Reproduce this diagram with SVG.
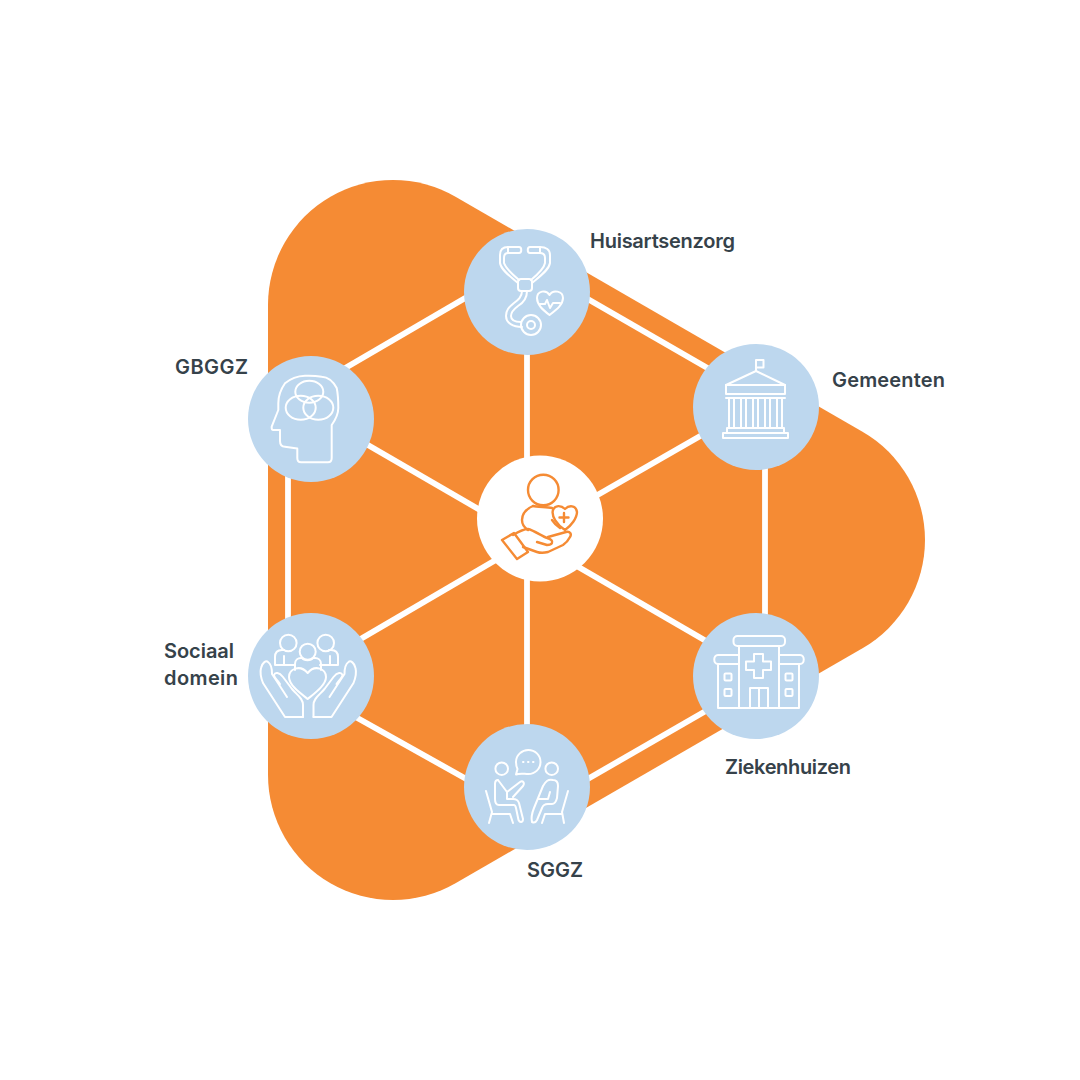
<svg xmlns="http://www.w3.org/2000/svg" xmlns:xlink="http://www.w3.org/1999/xlink" width="1080" height="1080" viewBox="0 0 1080 1080">
<style>
.n{fill:#bdd7ee}
.ic{fill:none;stroke:#fff;stroke-width:2;stroke-linecap:round;stroke-linejoin:round}
.oc{fill:none;stroke:#f58b34;stroke-width:2.4;stroke-linecap:round;stroke-linejoin:round}
.c line{stroke:#fff;stroke-width:5.800}
text{font-family:Inter,"Liberation Sans",sans-serif;font-size:20px;font-weight:600;fill:#36424a}
</style>
<rect width="1080" height="1080" fill="#fff"/>
<path id="bg" fill="#f58b34" d="M455.500 196.750L862.500 431.750A125 125 0 0 1 862.500 648.250L455.500 883.250A125 125 0 0 1 268 775V305A125 125 0 0 1 455.500 196.750Z"/>
<g id="connectors" class="c">
<line x1="311" y1="388" x2="527" y2="262"/>
<line x1="527" y1="264" x2="756" y2="396"/>
<line x1="765" y1="407" x2="765" y2="676"/>
<line x1="756" y1="682" x2="527" y2="814"/>
<line x1="527" y1="813" x2="311" y2="692"/>
<line x1="288" y1="676" x2="288" y2="419"/>
<line x1="527" y1="292" x2="527" y2="787"/>
<line x1="311" y1="412" x2="756" y2="670"/>
<line x1="311" y1="668" x2="540" y2="534"/>
<line x1="540" y1="528" x2="756" y2="404"/>
</g>
<g id="center"><circle cx="540" cy="518.500" r="63" fill="#fff"/>
<g class="oc">
<circle cx="543.300" cy="490" r="15.300"/>
<path d="M533 506C537 507 547 507 552 508"/>
<path d="M533 506C526 509 522 514 522 520C522 524 525 528 528 530"/>
<path d="M552 520C554 523 557 526 560 528"/>
<path d="M565 509C561 505 555 505 553 510C551 516 557 525 565 530C571 526 577 518 577 512C576 505 569 505 565 509Z"/>
<path d="M564 513V522M559.500 517.500H568.500"/>
<path d="M502 540L514 533L528 552L517 559Z"/>
<path d="M513 535C518 532 523 529 528 529C533 530 542 536 547 538C551 539 553 541 552 543C551 545 549 545 547 545L537 542"/>
<path d="M548 537L566 532C570 531 572 534 570 537C568 541 566 543 563 545L548 552C544 553 540 553 537 552L523 547"/>
</g></g>
<g id="huisartsenzorg"><circle class="n" cx="527" cy="292" r="63"/>
<g class="ic">
<path d="M508 247C503 247 500 250 500 255V263C501 270 511 277 518 283"/>
<path d="M508 253C505 253 504 255 504 258V263C506 269 513 275 519 280"/>
<path d="M508 247H519C522 247 522 253 519 253H508Z"/>
<path d="M540 247C546 247 550 250 550 255V263C549 270 539 277 532 283"/>
<path d="M540 253C544 253 545 255 545 258V263C544 269 537 275 531 280"/>
<path d="M540 247H530C527 247 527 253 530 253H540Z"/>
<rect x="518" y="279" width="14" height="12" rx="3"/>
<path d="M522 291C522 297 518 300 514 303C509 307 506 310 506 316C506 323 513 327 522 327"/>
<path d="M527 291C527 299 523 303 518 306C514 309 511 312 511 316C511 320 515 322 521 322"/>
<circle cx="531" cy="325" r="10"/><circle cx="531" cy="325" r="4"/>
<path d="M549.500 315C543 310 537 305 537 298C537 291 546 289 549.500 295C553 289 563 291 563 298C563 305 556 310 549.500 315Z"/>
<path d="M540 304H545L547 300L550 308L553 303H560"/>
</g></g>
<g id="gemeenten"><circle class="n" cx="756" cy="407" r="63"/>
<g class="ic">
<path d="M756 371V360H763.500V367.500H756"/>
<path d="M756 371L726 385V394H785V385Z"/>
<path d="M726 385H785"/>
<path d="M726 398H785"/>
<path d="M729 398V427M734 398V427M741 398V427M746 398V427M753 398V427M758 398V427M765 398V427M770 398V427M777 398V427M782 398V427"/>
<path d="M727 428H784V433H727Z"/>
<path d="M723 433H788V438H723Z"/>
</g></g>
<g id="gbggz"><circle class="n" cx="311" cy="419" r="63"/>
<g class="ic">
<path d="M297.300 449V458C297.300 461 298.500 462.300 301 462.300H328C331 462.300 331.700 460.500 331.700 458V425C336 419 338.300 414 338.300 408C338.300 402 338 394 336.700 388C333 381 327 377 321.700 376.700C316 375.700 310 375.500 305 375.700C297 376 290 379 285 383.300C281 389 278.300 396 278.300 403.300V410L271.700 426.700C271.500 429 272 430 273.300 430H280V441C280 445 282 446.700 285 446.700L297.300 448.500"/>
<ellipse cx="309.300" cy="391.700" rx="14" ry="11"/>
<ellipse cx="300.700" cy="407.700" rx="15" ry="12"/>
<ellipse cx="318.300" cy="407.700" rx="15" ry="12"/>
</g></g>
<g id="sociaal-domein"><circle class="n" cx="311" cy="676" r="63"/>
<g class="ic">
<circle cx="288.300" cy="643" r="8.300"/><circle cx="325.700" cy="643" r="8.300"/><circle cx="307.700" cy="651.700" r="8"/>
<path d="M295 665H275V657C275 652 278 650 282 650H284M284 665V656"/>
<path d="M320 665H338V657C338 652 335 650 331 650H329M330 665V656"/>
<path d="M295 670V664C295 660 298 658 301 658H302C304 661 311 661 313 658H315C318 658 321 660 321 664V670"/>
<path d="M307.700 699C300 693 289 685 289 677C289 669 300 664 307.700 673C315 664 326 669 326 677C326 685 315 693 307.700 699Z"/>
<g id="hand"><path d="M303 717H285L263 683C261 678 260 672 261 668C262 663 266 660 268 662C271 664 272 669 272 674L276 680L287 697"/>
<path d="M303 717V705C303 698 297 695 292 689L283 677C279 672 275 672 274 675C274 677 277 680 280 684"/></g>
<use xlink:href="#hand" href="#hand" transform="translate(616.500 0) scale(-1 1)"/>
</g></g>
<g id="ziekenhuizen"><circle class="n" cx="756" cy="676" r="63"/>
<g class="ic">
<rect x="733.500" y="636" width="51.500" height="10" rx="4"/>
<path d="M739 646V708M779 646V708"/>
<path d="M739 655H718C713 655 713 664 718 664H739"/>
<path d="M779 655H800C805 655 805 664 800 664H779"/>
<path d="M718 664V708H799V664"/>
<path d="M754 654H763V661.500H771V670H763V678H754V670H746V661.500H754Z"/>
<path d="M750 708V688H768V708M759 688V708"/>
<rect x="724.500" y="673.500" width="7" height="7" rx="1"/><rect x="724.500" y="689" width="7" height="7" rx="1"/>
<rect x="785.500" y="673.500" width="7" height="7" rx="1"/><rect x="785.500" y="689" width="7" height="7" rx="1"/>
</g></g>
<g id="sggz"><circle class="n" cx="527" cy="787" r="63"/>
<g class="ic">
<circle cx="501.700" cy="768.700" r="6.300"/><circle cx="551.700" cy="768.700" r="6.300"/>
<path d="M516 774.500L517.500 769C516.500 767 516 764 516 762C516 755 522 750 528.300 750C535 750 540.500 755 540.500 762C540.500 769 535 774 528.300 774C524 774 520 773 516 774.500Z"/>
<path d="M523 762H523.500M528 762H528.500M533 762H533.500"/>
<path d="M498 780C496 780 495 782 495 784V799C495 803 496 805 499 805H514C515 805 515.500 806 516 808L518.500 820C520 823 523 822.500 523 819L519 803C518 800 516 799 513 799H507V792L498 780"/>
<path d="M507 792L520 782C523 780 525 783 523 786L513 797"/>
<path d="M486 791L492 812L489 823M492 814H510L513 823"/>
<path d="M553 780C548 779 546 781 543 786L534 808C532 813 531 818 532 822C534 823 536 822 537 820L542 808C543 805 545 804 548 804H552C555 804 556 802 557 798L558 786C558 782 556 780 553 780Z"/>
<path d="M538 799H548L550 792"/>
<path d="M568 791L562 812L564 823M562 814H545L542 823"/>
</g></g>
<text x="590" y="248" textLength="145">Huisartsenzorg</text>
<text x="832" y="387" textLength="113">Gemeenten</text>
<text x="175" y="374" textLength="73">GBGGZ</text>
<text x="164" y="658" textLength="70">Sociaal</text>
<text x="164" y="685" textLength="74">domein</text>
<text x="725" y="774" textLength="126">Ziekenhuizen</text>
<text x="527" y="877" textLength="56">SGGZ</text>
</svg>
